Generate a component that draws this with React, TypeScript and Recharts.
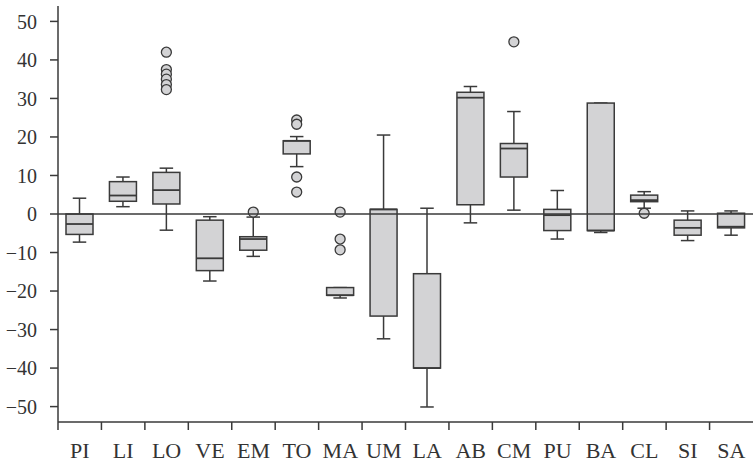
import React from "react";
import { ComposedChart, Bar, XAxis, YAxis, ReferenceLine } from "recharts";

const regions = ["PI", "LI", "LO", "VE", "EM", "TO", "MA", "UM", "LA", "AB", "CM", "PU", "BA", "CL", "SI", "SA"];
const whiskerLow = [-7.3, 1.9, -4.2, -17.4, -11, 12.3, -21.8, -32.4, -50.1, -2.3, 1, -6.5, -4.8, 1.5, -6.9, -5.5];
const q1 = [-5.3, 3.3, 2.6, -14.7, -9.4, 15.6, -21.1, -26.5, -40, 2.4, 9.6, -4.3, -4.3, 3.2, -5.5, -3.6];
const median = [-2.6, 4.8, 6.2, -11.5, -6.5, 19, -21.1, 1.2, -40, 30.2, 17, -0.3, -4.3, 3.6, -3.6, -3.3];
const q3 = [0, 8.4, 10.8, -1.6, -5.9, 19, -19.1, 1.2, -15.5, 31.6, 18.3, 1.2, 28.8, 4.9, -1.6, 0.2];
const whiskerHigh = [4.1, 9.6, 11.9, -0.7, -0.8, 20.1, -19.1, 20.5, 1.5, 33.1, 26.6, 6.1, 28.8, 5.8, 0.8, 0.8];
const outliers: number[][] = [
  [], [], [42, 37.5, 36.3, 35, 33.6, 32.3], [], [0.5], [24.4, 23.3, 9.6, 5.7], [0.5, -6.5, -9.3],
  [], [], [], [44.7], [], [], [0.2], [], [],
];
const yTicks = [-50, -40, -30, -20, -10, 0, 10, 20, 30, 40, 50];

const data = regions.map((name, i) => {
  const all = [whiskerLow[i], whiskerHigh[i], ...outliers[i]];
  return {
    name,
    lo: whiskerLow[i],
    q1: q1[i],
    med: median[i],
    q3: q3[i],
    hi: whiskerHigh[i],
    out: outliers[i],
    range: [Math.min(...all), Math.max(...all)],
  };
});

const INK = "#3a3a3a";
const FILL = "#d3d3d5";
const FONT = "'Liberation Serif', serif";

const BoxShape = (props: any) => {
  const { x, y, width, height, payload } = props;
  const [min, max] = payload.range;
  const k = height / (max - min);
  const py = (v: number) => y + (max - v) * k;
  const cx = x + width / 2;
  const cap = width / 2;
  return (
    <g>
      <line x1={cx} x2={cx} y1={py(payload.hi)} y2={py(payload.q3)} stroke={INK} strokeWidth={1.5} />
      <line x1={cx} x2={cx} y1={py(payload.q1)} y2={py(payload.lo)} stroke={INK} strokeWidth={1.5} />
      <line x1={cx - cap / 2} x2={cx + cap / 2} y1={py(payload.hi)} y2={py(payload.hi)} stroke={INK} strokeWidth={1.5} />
      <line x1={cx - cap / 2} x2={cx + cap / 2} y1={py(payload.lo)} y2={py(payload.lo)} stroke={INK} strokeWidth={1.5} />
      <rect x={x} y={py(payload.q3)} width={width} height={Math.max(py(payload.q1) - py(payload.q3), 0.5)} fill={FILL} stroke={INK} strokeWidth={1.5} />
      <line x1={x} x2={x + width} y1={py(payload.med)} y2={py(payload.med)} stroke={INK} strokeWidth={1.8} />
      {payload.out.map((v: number, j: number) => (
        <circle key={j} cx={cx} cy={py(v)} r={5} fill={FILL} stroke={INK} strokeWidth={1.3} />
      ))}
    </g>
  );
};

const CategoryTick = (props: any) => {
  const { x, y, payload } = props;
  const half = payload.offset || 0;
  const top = y - 20;
  return (
    <g>
      <line x1={x - half} x2={x - half} y1={top} y2={top + 8} stroke={INK} strokeWidth={1.5} />
      <text x={x} y={y} dy="0.71em" textAnchor="middle" fill="#333" fontSize={22} fontFamily={FONT}>
        {payload.value}
      </text>
    </g>
  );
};

const fmt = (v: number) => String(v).replace("-", "\u2212");

export default function App() {
  return (
    <div style={{ position: "absolute", left: 0, top: 0 }}>
      <ComposedChart width={754} height={462} data={data} margin={{ top: 6, right: 1, left: 0, bottom: 0 }} barCategoryGap={0}>
        <XAxis
          dataKey="name"
          height={40}
          tickLine={false}
          tickSize={0}
          tickMargin={20}
          axisLine={{ stroke: INK, strokeWidth: 1.5 }}
          tick={<CategoryTick />}
          interval={0}
        />
        <YAxis
          width={58}
          domain={[-54, 54]}
          ticks={yTicks}
          allowDataOverflow
          tickSize={8}
          tickMargin={13}
          tickFormatter={fmt}
          axisLine={{ stroke: INK, strokeWidth: 1.5 }}
          tickLine={{ stroke: INK, strokeWidth: 1.5 }}
          tick={{ fill: "#333", fontSize: 20, fontFamily: FONT }}
        />
        <ReferenceLine y={0} stroke={INK} strokeWidth={1.5} />
        <Bar dataKey="range" barSize={27} isAnimationActive={false} shape={<BoxShape />} />
      </ComposedChart>
    </div>
  );
}
